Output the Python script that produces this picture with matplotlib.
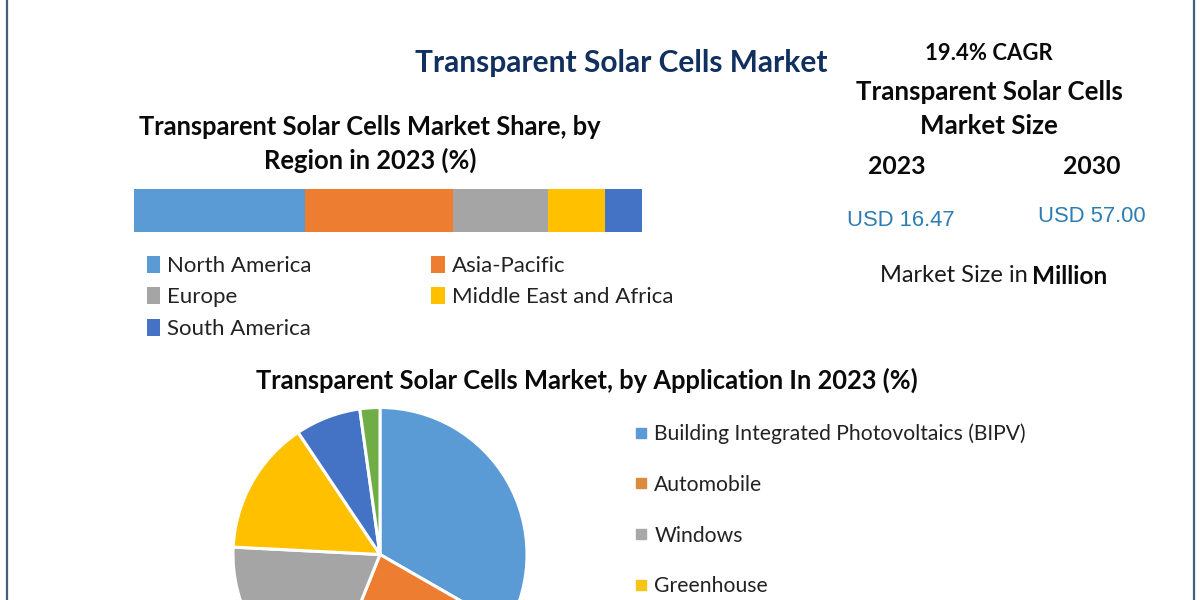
import matplotlib
matplotlib.use("Agg")
import matplotlib.pyplot as plt
from matplotlib.lines import Line2D
from matplotlib.patches import Rectangle

W, H = 1200, 600

regions = ["North America", "Asia-Pacific", "Europe", "Middle East and Africa", "South America"]
region_share = [33.6, 29.1, 18.8, 11.2, 7.3]
region_colors = ["#5B9BD5", "#ED7D31", "#A5A5A5", "#FFC000", "#4472C4"]

applications = ["Building Integrated Photovoltaics (BIPV)", "Automobile", "Windows", "Greenhouse", "Other A", "Other B"]
application_share = [33.3, 22.8, 19.7, 14.8, 7.2, 2.2]
application_colors = ["#5B9BD5", "#ED7D31", "#A5A5A5", "#FFC000", "#4472C4", "#70AD47"]
application_swatches = ["#5B9BD5", "#DB8B3F", "#A8A8A8", "#F5C518"]
visible_applications = 4

years = ["2023", "2030"]
market_size = ["USD 16.47", "USD 57.00"]

plt.rcParams["font.family"] = ["Lato", "DejaVu Sans"]
fig = plt.figure(figsize=(12, 6), dpi=100, facecolor="white")


def axes_px(x0, y0, x1, y1, **kw):
    return fig.add_axes([x0 / W, 1 - y1 / H, (x1 - x0) / W, (y1 - y0) / H], **kw)


bg = axes_px(0, 0, W, H)
bg.set_xlim(0, W)
bg.set_ylim(H, 0)
bg.axis("off")

border = "#41607F"
bg.plot([6.5, 6.5], [0, H], color=border, lw=1.6)
bg.plot([1193.5, 1193.5], [0, H], color=border, lw=1.6)


def label(x, y, s, size, weight="bold", color="#0A0A0A", family=None, ha="center"):
    kw = {"family": family} if family else {}
    return bg.text(x, y, s, fontsize=size, fontweight=weight, color=color,
                   ha=ha, va="center", **kw)


label(621, 63, "Transparent Solar Cells Market", 21.5, color="#12305F")
label(370, 127, "Transparent Solar Cells Market Share, by", 18.4)
label(370, 160, "Region in 2023 (%)", 18.4)
label(989, 54, "19.4% CAGR", 15.9)
label(989, 92, "Transparent Solar Cells", 18.6)
label(989, 126, "Market Size", 18.6)
label(897, 167, years[0], 17.8)
label(1092, 166, years[1], 17.8)
label(901, 220, market_size[0], 15.8, weight="normal", color="#2C7DB3", family="Liberation Sans")
label(1092, 217, market_size[1], 15.8, weight="normal", color="#2C7DB3", family="Liberation Sans")
label(880, 276, "Market Size in", 17.0, weight="normal", color="#1A1A1A", ha="left")
label(1032, 276, "Million", 17.6, color="#0A0A0A", ha="left")
label(587, 380, "Transparent Solar Cells Market, by Application In 2023 (%)", 18.4)

# stacked region bar
bar_ax = axes_px(134, 189, 642, 232)
bar_ax.set_xlim(0, sum(region_share))
bar_ax.set_ylim(-0.5, 0.5)
bar_ax.axis("off")
left = 0
for value, color in zip(region_share, region_colors):
    bar_ax.barh(0, value, left=left, height=1.0, color=color, linewidth=0)
    left += value

# region legend (matplotlib fills by column)
order = [0, 2, 4, 1, 3]
leg = bar_ax.legend([Rectangle((0, 0), 1, 1, color=region_colors[i], linewidth=0) for i in order],
                    [regions[i] for i in order],
                    ncol=2, frameon=False, loc="upper left",
                    bbox_to_anchor=(0.0255, -0.55), borderaxespad=0, borderpad=0,
                    fontsize=16.0, labelspacing=0.51, columnspacing=5.37,
                    handletextpad=0.32, handlelength=0.6, handleheight=0.8,
                    labelcolor="#222222")

# application pie, cut off by the lower edge of the figure
pie_ax = axes_px(233, 407.5, 527, 701.5)
pie_ax.pie(application_share, colors=application_colors, startangle=90, counterclock=False,
           radius=1.0, wedgeprops={"edgecolor": "white", "linewidth": 2.2})
pie_ax.set_xlim(-1, 1)
pie_ax.set_ylim(-1, 1)

# application legend
leg_ax = axes_px(630, 410, 1100, 600)
leg_ax.axis("off")
leg_ax.legend([Line2D([], [], linestyle="none", marker="s", markersize=7, color=c)
               for c in application_swatches[:visible_applications]],
              applications[:visible_applications],
              frameon=False, loc="upper left", bbox_to_anchor=(0, 0.93), borderaxespad=0,
              borderpad=0, fontsize=15.2, labelspacing=1.46, handletextpad=0.15,
              handlelength=1.0, labelcolor="#222222")

fig.savefig("out.png", dpi=100, facecolor="white")
